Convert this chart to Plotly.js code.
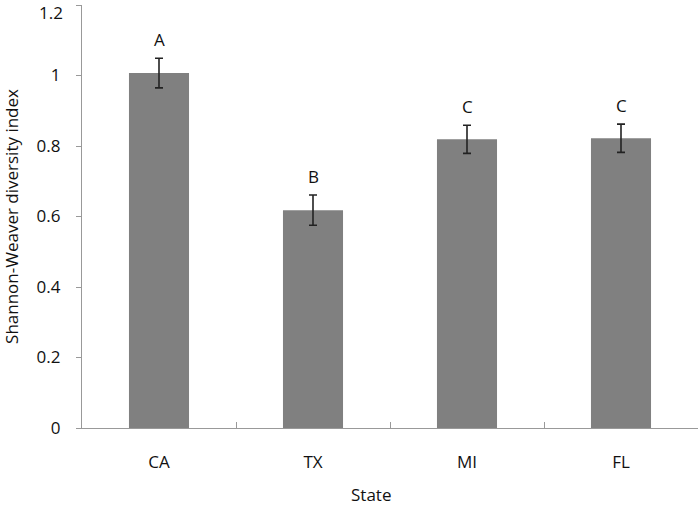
<!DOCTYPE html>
<html><head><meta charset="utf-8">
<script src="https://cdn.plot.ly/plotly-3.0.1.min.js"></script>
<style>body{margin:0;background:#fff}#c{width:700px;height:507px}</style>
</head><body><div id="c"></div>
<script>
const states = ["CA", "TX", "MI", "FL"];
const diversity = [1.007, 0.618, 0.819, 0.822];
const errors = [0.042, 0.043, 0.04, 0.04];
const letters = ["A", "B", "C", "C"];
const yTicks = [0, 0.2, 0.4, 0.6, 0.8, 1, 1.2];
const yTickText = ["0", "0.2", "0.4", "0.6", "0.8", "1", "1.2"];

const font = {family: "Open Sans, sans-serif", size: 17, color: "#111"};
const trace = {
  type: "bar", x: states, y: diversity, width: 0.39,
  marker: {color: "#808080", line: {width: 0}},
  error_y: {type: "data", array: errors, visible: true, color: "#222", thickness: 1.6, width: 4},
  hoverinfo: "none"
};
const annotations = states.map((s, i) => ({
  x: s, y: diversity[i] + errors[i], xref: "x", yref: "y",
  text: letters[i], showarrow: false, yanchor: "bottom", yshift: 5,
  font: font
}));
// top tick label drawn slightly lower so it stays inside the page
const topIdx = yTicks.length - 1;
annotations.push({
  xref: "paper", yref: "y", x: 0, y: yTicks[topIdx], xanchor: "right", yanchor: "top",
  xshift: -17, yshift: 6, text: yTickText[topIdx], showarrow: false, font: font
});
annotations.push({
  xref: "paper", yref: "paper", x: (371 - 82) / 616, y: 0, yshift: -66,
  xanchor: "center", yanchor: "middle", text: "State", showarrow: false, font: font
});
const layout = {
  width: 700, height: 507,
  margin: {l: 82, r: 2, t: 5, b: 79},
  paper_bgcolor: "#fff", plot_bgcolor: "#fff",
  font: font, showlegend: false,
  xaxis: {
    type: "category", range: [-0.5, 3.5], showline: true, linecolor: "#999", linewidth: 1.2,
    ticks: "inside", tickson: "boundaries", ticklen: 6, tickcolor: "#999",
    ticklabelstandoff: 18, showgrid: false, zeroline: false, tickfont: font
  },
  yaxis: {
    range: [0, 1.2], tickvals: yTicks,
    ticktext: yTickText.map((t, i) => i === topIdx ? "" : t),
    showline: true, linecolor: "#999", linewidth: 1.2,
    ticks: "outside", ticklen: 5, tickcolor: "#999", ticklabelstandoff: 12,
    showgrid: false, zeroline: false, tickfont: font,
    title: {text: "Shannon-Weaver diversity index", font: font, standoff: 14}
  },
  annotations: annotations
};
Plotly.newPlot("c", [trace], layout, {staticPlot: true});
</script></body></html>
